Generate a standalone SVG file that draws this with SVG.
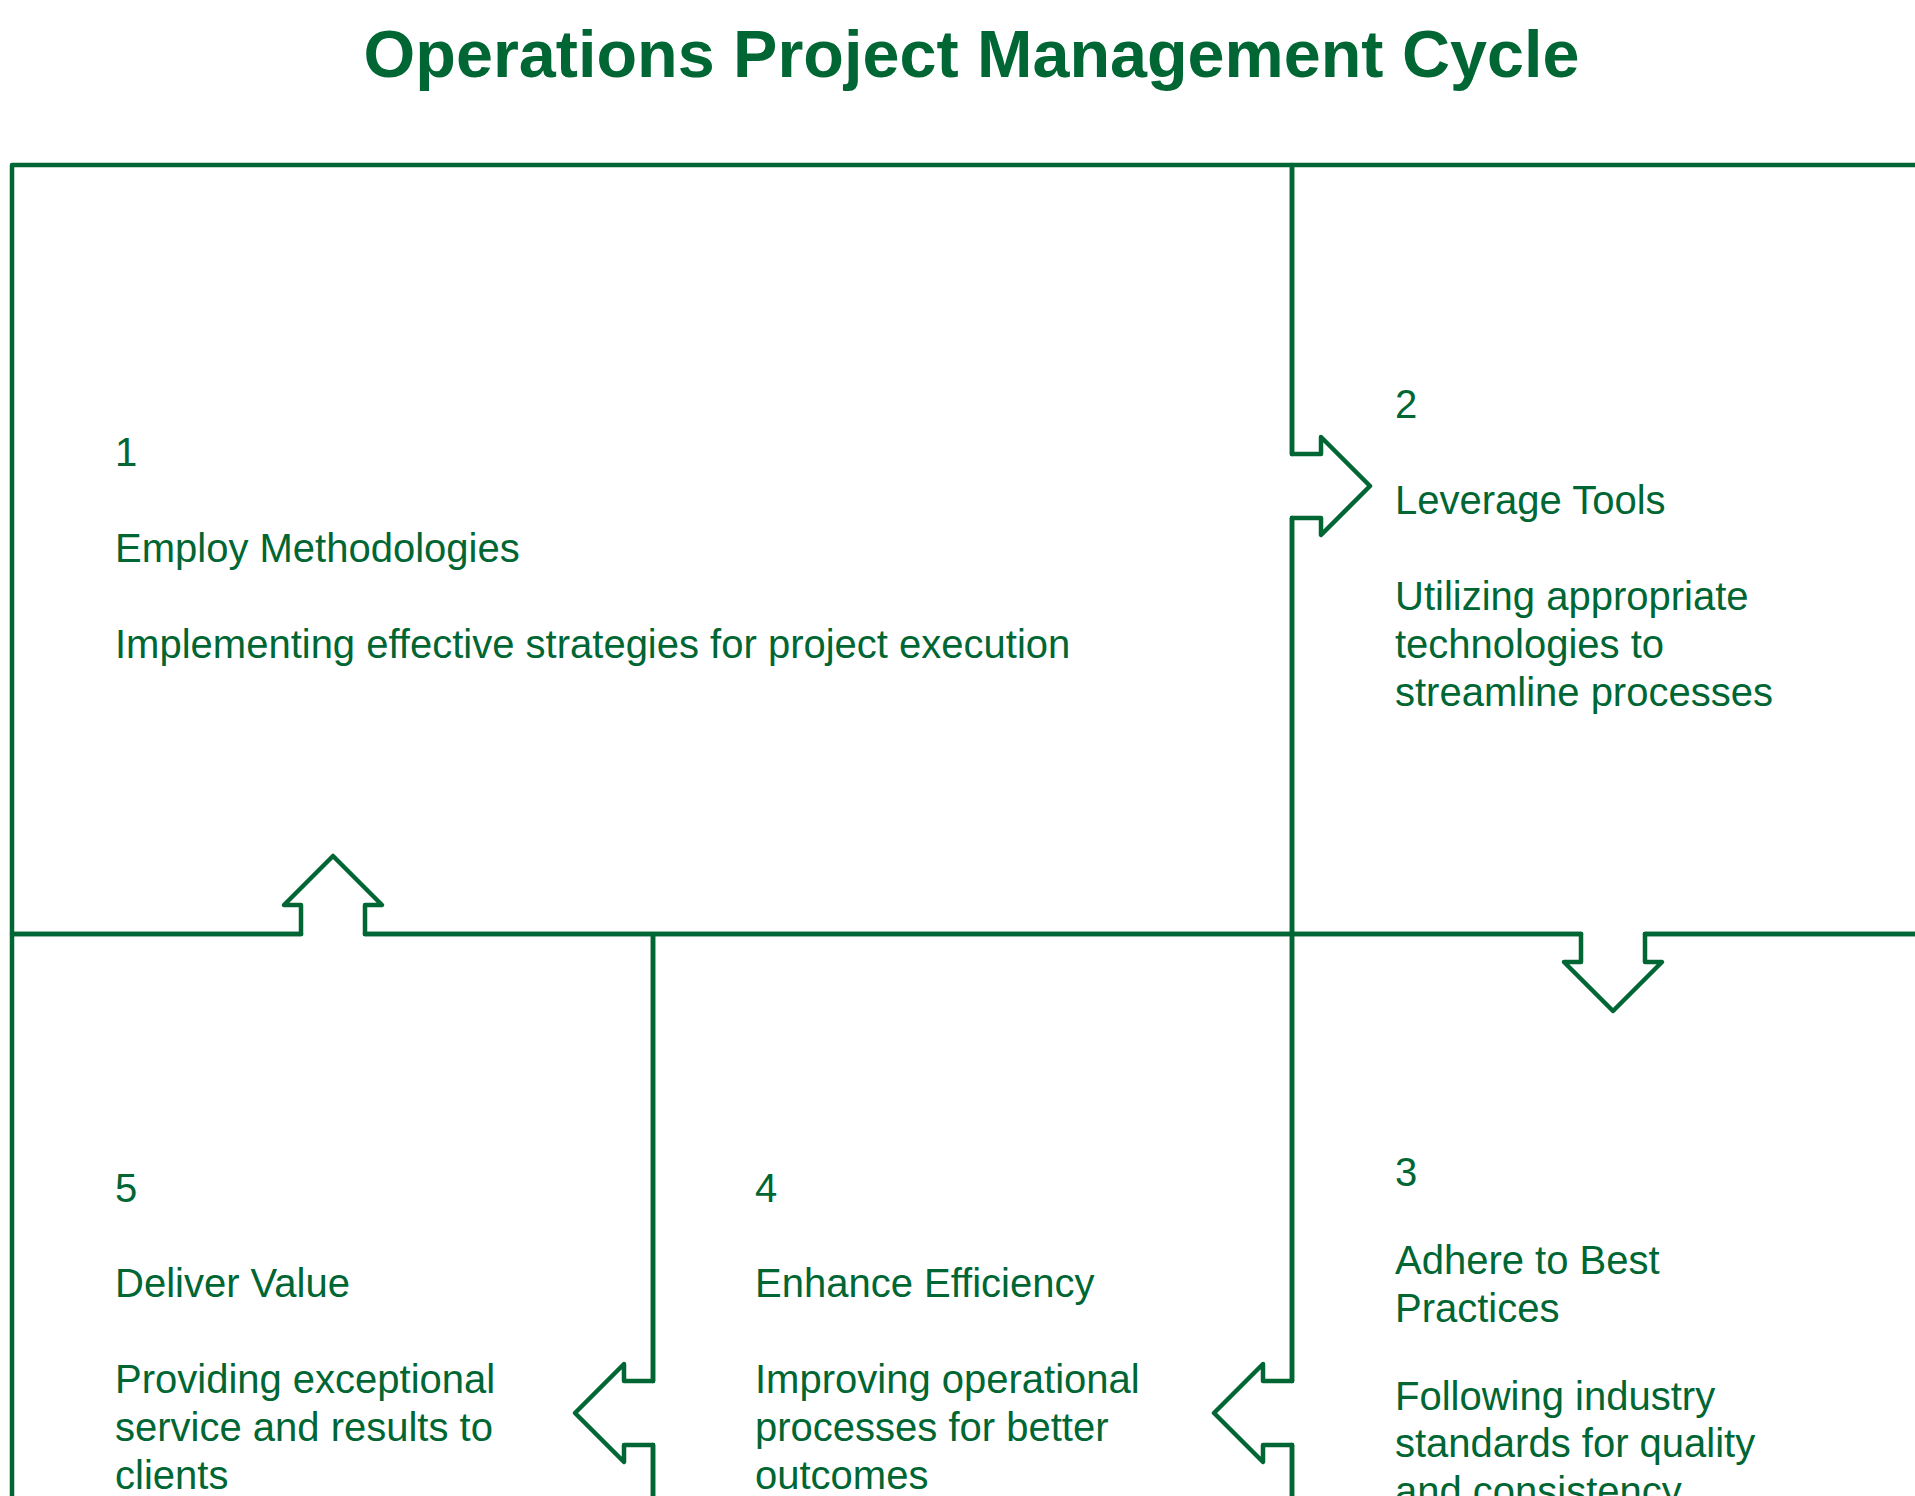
<svg xmlns="http://www.w3.org/2000/svg" width="1915" height="1496" viewBox="0 0 1915 1496">
  <style>
    .edge { fill: none; stroke: #006633; stroke-width: 4.5; stroke-linejoin: round; stroke-linecap: round; }
    .label { font-family: "Liberation Sans", Arial, sans-serif; font-size: 40px; fill: #006633; }
    .title { font-family: "Liberation Sans", Arial, sans-serif; font-size: 66.5px; font-weight: bold; fill: #006633; }
  </style>
  <rect x="0" y="0" width="1915" height="1496" fill="#ffffff"/>

  <text class="title" x="971.5" y="77" text-anchor="middle">Operations Project Management Cycle</text>

  <!-- Step panels: outline segments, left open where the arrows attach -->
  <g id="node-1">
    <path class="edge" d="M301,934 H12 V165 H1292 V454 M1292,518 V934 H365"/>
    <text class="label" x="115" y="466">1</text>
    <text class="label" x="115" y="562">Employ Methodologies</text>
    <text class="label" x="115" y="658">Implementing effective strategies for project execution</text>
  </g>

  <g id="node-2">
    <path class="edge" d="M1292,165 H1934 V934 H1645 M1581,934 H1292 V518 M1292,454 V165"/>
    <text class="label" x="1395" y="418">2</text>
    <text class="label" x="1395" y="514">Leverage Tools</text>
    <text class="label" x="1395" y="610">Utilizing appropriate</text>
    <text class="label" x="1395" y="658">technologies to</text>
    <text class="label" x="1395" y="706">streamline processes</text>
  </g>

  <g id="node-3">
    <path class="edge" d="M1645,934 H1934 V1892 H1292 V1445 M1292,1381 V934 H1581"/>
    <text class="label" x="1395" y="1186">3</text>
    <text class="label" x="1395" y="1274">Adhere to Best</text>
    <text class="label" x="1395" y="1322">Practices</text>
    <text class="label" x="1395" y="1410">Following industry</text>
    <text class="label" x="1395" y="1457">standards for quality</text>
    <text class="label" x="1395" y="1505">and consistency</text>
  </g>

  <g id="node-4">
    <path class="edge" d="M653,934 H1292 V1381 M1292,1445 V1892 H653 V1445 M653,1381 V934"/>
    <text class="label" x="755" y="1202">4</text>
    <text class="label" x="755" y="1297">Enhance Efficiency</text>
    <text class="label" x="755" y="1393">Improving operational</text>
    <text class="label" x="755" y="1441">processes for better</text>
    <text class="label" x="755" y="1489">outcomes</text>
  </g>

  <g id="node-5">
    <path class="edge" d="M301,934 H12 V1892 H653 V1445 M653,1381 V934 H365"/>
    <text class="label" x="115" y="1202">5</text>
    <text class="label" x="115" y="1297">Deliver Value</text>
    <text class="label" x="115" y="1393">Providing exceptional</text>
    <text class="label" x="115" y="1441">service and results to</text>
    <text class="label" x="115" y="1489">clients</text>
  </g>

  <!-- Block arrows joining consecutive panels -->
  <g id="connectors">
    <path id="arrow-1-2" class="edge" d="M1292,454 H1321 V437 L1370,486 L1321,535 V518 H1292"/>
    <path id="arrow-2-3" class="edge" d="M1581,934 V962 H1564 L1613,1011 L1662,962 H1645 V934"/>
    <path id="arrow-3-4" class="edge" d="M1292,1381 H1263 V1364 L1214,1413 L1263,1462 V1445 H1292"/>
    <path id="arrow-4-5" class="edge" d="M653,1381 H624 V1364 L575,1413 L624,1462 V1445 H653"/>
    <path id="arrow-5-1" class="edge" d="M301,934 V905 H284 L333,856 L382,905 H365 V934"/>
  </g>
</svg>
